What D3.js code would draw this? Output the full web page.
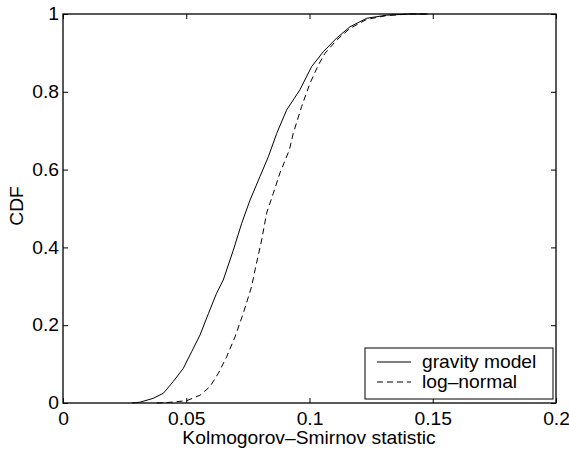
<!DOCTYPE html>
<html>
<head>
<meta charset="utf-8">
<script src="https://cdn.jsdelivr.net/npm/d3@7"></script>
<style>
  body { margin: 0; background: #fff; }
  svg { display: block; }
</style>
</head>
<body>
<div id="drawing"></div>
<script>
// KS statistic values
const gravityX = [0.028, 0.0312, 0.0366, 0.0407, 0.0447, 0.0488, 0.0522, 0.0556, 0.059, 0.0623,
  0.065, 0.0691, 0.0725, 0.0759, 0.0799, 0.0833, 0.0867, 0.0907, 0.0961, 0.1009,
  0.1056, 0.111, 0.1164, 0.1232, 0.1313, 0.1408, 0.148];
const gravityCdf = [0, 0.002, 0.012, 0.025, 0.055, 0.089, 0.132, 0.175, 0.23, 0.282,
  0.316, 0.393, 0.462, 0.522, 0.582, 0.633, 0.693, 0.753, 0.805, 0.865,
  0.903, 0.938, 0.967, 0.989, 0.997, 1.0, 1.0];

const lognormX = [0.038, 0.042, 0.0502, 0.0556, 0.0596, 0.063, 0.0664, 0.0698, 0.0731, 0.0765,
  0.0779, 0.0806, 0.0826, 0.0853, 0.088, 0.0918, 0.0934, 0.0968, 0.1002, 0.1036,
  0.1063, 0.111, 0.1164, 0.1232, 0.1313, 0.1408, 0.148];
const lognormCdf = [0, 0.001, 0.006, 0.02, 0.042, 0.076, 0.119, 0.17, 0.23, 0.299,
  0.342, 0.419, 0.488, 0.539, 0.591, 0.65, 0.693, 0.762, 0.822, 0.869,
  0.899, 0.933, 0.963, 0.986, 0.996, 1.0, 1.0];

const xTicks = [0, 0.05, 0.1, 0.15, 0.2];
const yTicks = [0, 0.2, 0.4, 0.6, 0.8, 1];

const W = 569, H = 451;
const mLeft = 63, mRight = 556, mTop = 14, mBottom = 403;
const fontSize = 17.5;
const sx = 1.1; // the original text is a bit wider than Helvetica

const svg = d3.select("#drawing")
  .append("svg")
  .attr("width", W)
  .attr("height", H)
  .style("font-family", "'Liberation Sans', Arial, sans-serif");

const xScale = d3.scaleLinear().domain([0, 0.2]).range([mLeft, mRight]);
const yScale = d3.scaleLinear().domain([0, 1]).range([mBottom, mTop]);

const fmt = d => (d === 0 ? "0" : d === 1 ? "1" : String(d));

// axes, ticks pointing inward (MATLAB style)
svg.append("g")
  .attr("transform", `translate(0,${mBottom})`)
  .call(d3.axisBottom(xScale).tickValues(xTicks).tickFormat(fmt).tickSizeInner(-5).tickSizeOuter(0).tickPadding(10))
  .call(g => g.select(".domain").remove())
  .call(g => g.selectAll(".tick text").attr("transform", `scale(${sx},1)`));

svg.append("g")
  .attr("transform", `translate(0,${mTop})`)
  .call(d3.axisTop(xScale).tickValues(xTicks).tickFormat("").tickSizeInner(-5).tickSizeOuter(0))
  .call(g => g.select(".domain").remove());

svg.append("g")
  .attr("transform", `translate(${mLeft},0)`)
  .call(d3.axisLeft(yScale).tickValues(yTicks).tickFormat(fmt).tickSizeInner(-5).tickSizeOuter(0))
  .call(g => g.select(".domain").remove())
  .call(g => g.selectAll(".tick text").attr("x", -4 / sx).attr("transform", `scale(${sx},1)`));

svg.append("g")
  .attr("transform", `translate(${mRight},0)`)
  .call(d3.axisRight(yScale).tickValues(yTicks).tickFormat("").tickSizeInner(-5).tickSizeOuter(0))
  .call(g => g.select(".domain").remove());

svg.selectAll(".tick text")
  .attr("font-size", fontSize)
  .attr("fill", "#000")
  .attr("font-family", "'Liberation Sans', Arial, sans-serif");
svg.selectAll(".tick line").attr("stroke", "#000");

// box
svg.append("rect")
  .attr("x", mLeft).attr("y", mTop)
  .attr("width", mRight - mLeft).attr("height", mBottom - mTop)
  .attr("fill", "none").attr("stroke", "#000").attr("stroke-width", 1.3);

const line = d3.line().x(d => xScale(d[0])).y(d => yScale(d[1]));

svg.append("path")
  .datum(d3.zip(gravityX, gravityCdf))
  .attr("d", line)
  .attr("fill", "none").attr("stroke", "#000").attr("stroke-width", 1);

svg.append("path")
  .datum(d3.zip(lognormX, lognormCdf))
  .attr("d", line)
  .attr("fill", "none").attr("stroke", "#000").attr("stroke-width", 1)
  .attr("stroke-dasharray", "6,4");

// axis labels
svg.append("text")
  .attr("transform", `scale(${sx},1)`)
  .attr("x", 309 / sx).attr("y", 444)
  .attr("text-anchor", "middle").attr("font-size", fontSize)
  .text("Kolmogorov\u2013Smirnov statistic");

svg.append("text")
  .attr("transform", `rotate(-90) scale(${sx},1)`)
  .attr("x", -206 / sx).attr("y", 23)
  .attr("text-anchor", "middle").attr("font-size", fontSize)
  .text("CDF");

// legend
const legend = svg.append("g");
legend.append("rect")
  .attr("x", 365).attr("y", 348).attr("width", 188).attr("height", 51)
  .attr("fill", "#fff").attr("stroke", "#000").attr("stroke-width", 1);

const legendItems = [
  { label: "gravity model", dash: null, y: 362 },
  { label: "log\u2013normal", dash: "6,4", y: 382 }
];
legendItems.forEach(it => {
  legend.append("line")
    .attr("x1", 377).attr("x2", 411).attr("y1", it.y).attr("y2", it.y)
    .attr("stroke", "#000").attr("stroke-width", 1)
    .attr("stroke-dasharray", it.dash);
  legend.append("text")
    .attr("transform", `scale(${sx},1)`)
    .attr("x", 422 / sx).attr("y", it.y + 6.3)
    .attr("font-size", fontSize)
    .text(it.label);
});
</script>
</body>
</html>
